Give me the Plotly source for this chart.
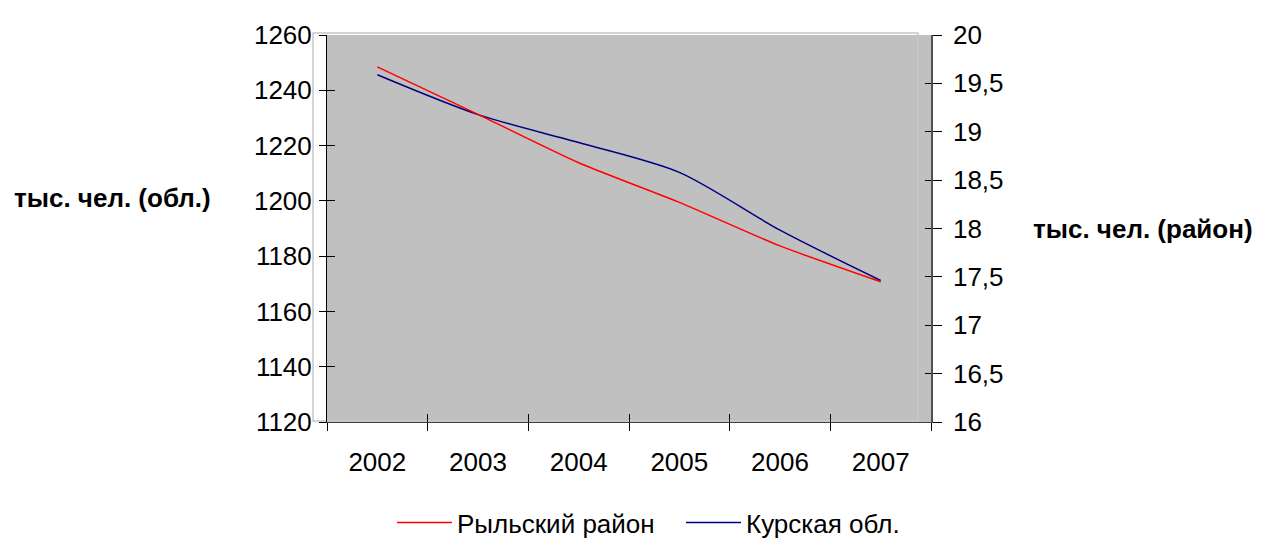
import plotly.graph_objects as go

years = ["2002", "2003", "2004", "2005", "2006", "2007"]
rylsk = [19.67, 19.18, 18.68, 18.27, 17.82, 17.45]          # тыс. чел. (район), right axis
kursk = [1245.6, 1231.2, 1221.1, 1210.3, 1189.4, 1171.2]    # тыс. чел. (обл.), left axis

left_ticks = [1120, 1140, 1160, 1180, 1200, 1220, 1240, 1260]
right_ticks = [16, 16.5, 17, 17.5, 18, 18.5, 19, 19.5, 20]

FONT = "Liberation Sans, Arial, sans-serif"
OFF = 8  # default page body margin
W, H = 1270, 550
L, R, T, B = 327 - OFF, 931 - OFF, 27 - OFF, 423 - OFF


def px(xp):
    return (xp - OFF - L) / (R - L)


def py(yp):
    return (B - (yp - OFF)) / (B - T)


fig = go.Figure()
fig.add_trace(go.Scatter(x=years, y=rylsk, name="Рыльский район", mode="lines",
                         line=dict(color="#FF0000", width=1.5, shape="spline", smoothing=0.6),
                         xaxis="x", yaxis="y2"))
fig.add_trace(go.Scatter(x=years, y=kursk, name="Курская обл.", mode="lines",
                         line=dict(color="#000080", width=1.5, shape="spline", smoothing=0.8),
                         xaxis="x", yaxis="y"))
# invisible helper traces carrying the inward half of the crossing ticks
fig.add_trace(go.Scatter(x=years, y=[None]*6, xaxis="x2", yaxis="y3", showlegend=False, hoverinfo="skip"))
fig.add_trace(go.Scatter(x=years, y=[None]*6, xaxis="x2", yaxis="y4", showlegend=False, hoverinfo="skip"))

tickfont = dict(family=FONT, size=26, color="black")

fig.update_layout(
    width=W, height=H,
    margin=dict(l=L, r=W - R, t=T, b=H - B, pad=0),
    paper_bgcolor="white", plot_bgcolor="#C0C0C0",
    separators=", ",
    showlegend=True,
    legend=dict(orientation="h", x=px(392), xanchor="left", y=py(526), yanchor="middle",
                font=dict(family=FONT, size=26, color="black"), itemwidth=55,
                entrywidth=219, entrywidthmode="pixels",
                bgcolor="rgba(0,0,0,0)", traceorder="normal"),
    xaxis=dict(type="category", categoryorder="array", categoryarray=years, range=[-0.5, 5.5],
               tickson="boundaries", ticks="outside", ticklen=8, tickcolor="black", tickwidth=1,
               showline=True, linecolor="#404040", linewidth=1, showgrid=False, zeroline=False,
               tickfont=tickfont, ticklabelstandoff=17),
    xaxis2=dict(type="category", categoryorder="array", categoryarray=years, range=[-0.5, 5.5],
                overlaying="x", anchor="y", side="bottom", tickson="boundaries", ticks="inside",
                ticklen=8, tickcolor="black", tickwidth=1, showticklabels=False, showgrid=False,
                showline=False, zeroline=False),
    yaxis=dict(range=[1120, 1260], tickvals=left_ticks, ticks="outside", ticklen=7,
               tickcolor="black", showline=True, linecolor="black", linewidth=1,
               showgrid=False, zeroline=False, tickfont=tickfont, ticklabelstandoff=2),
    yaxis2=dict(range=[16, 20], tickvals=right_ticks, overlaying="y", side="right", anchor="x",
                ticks="outside", ticklen=9, tickcolor="black", showline=True, linecolor="#505050",
                linewidth=1.5, showgrid=False, zeroline=False, tickfont=tickfont,
                ticklabelstandoff=6),
    yaxis3=dict(range=[1120, 1260], tickvals=left_ticks, overlaying="y", side="left", anchor="x2",
                ticks="inside", ticklen=8, tickcolor="black", showticklabels=False,
                showline=False, showgrid=False, zeroline=False),
    yaxis4=dict(range=[16, 20], tickvals=right_ticks, overlaying="y", side="right", anchor="x2",
                ticks="inside", ticklen=6, tickcolor="black", showticklabels=False,
                showline=False, showgrid=False, zeroline=False),
)

# thin frame of the plot area (Excel style)
fig.add_shape(type="rect", xref="paper", yref="paper",
              x0=px(313), x1=px(918), y0=py(422), y1=py(25),
              line=dict(color="#C8C8C8", width=1.5), fillcolor="rgba(0,0,0,0)", layer="below")

fig.add_annotation(text="<b>тыс. чел. (обл.)</b>", xref="paper", yref="paper",
                   x=px(213), y=py(194), xanchor="right", yanchor="middle", showarrow=False,
                   font=dict(family=FONT, size=26, color="black"))
fig.add_annotation(text="<b>тыс. чел. (район)</b>", xref="paper", yref="paper",
                   x=px(1031), y=py(225), xanchor="left", yanchor="middle", showarrow=False,
                   font=dict(family=FONT, size=26, color="black"))

fig.write_html("out.html")
